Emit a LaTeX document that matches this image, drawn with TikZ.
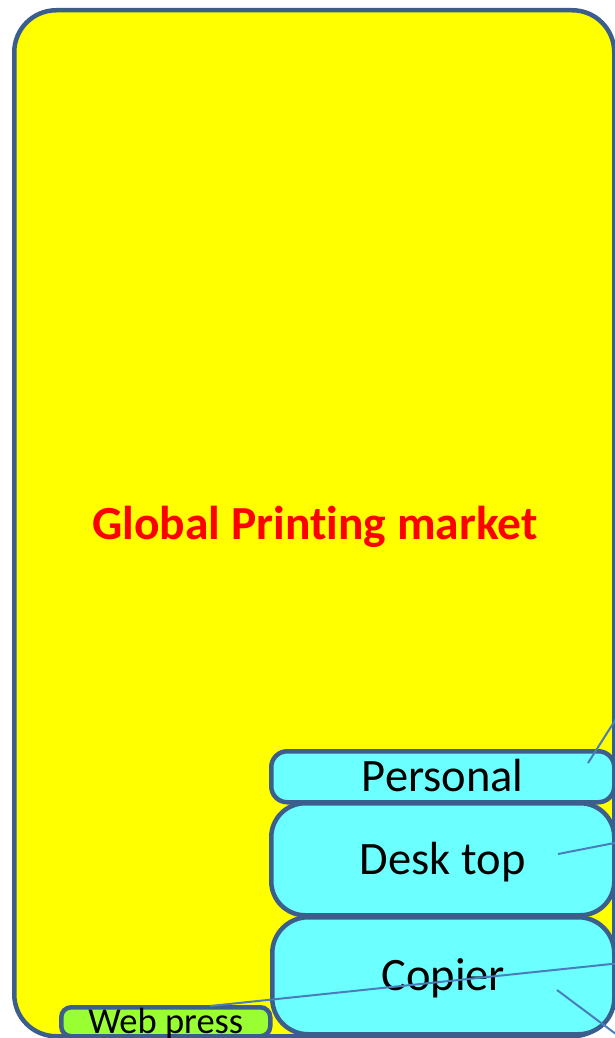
\documentclass[tikz,border=0pt]{standalone}
\usepackage{fontspec}
\setmainfont{Carlito}[Ligatures=NoCommon]
\definecolor{edgeblue}{HTML}{3B5E8C}
\definecolor{linkblue}{HTML}{4A7EBB}
\definecolor{boxcyan}{HTML}{6CFFFF}
\definecolor{boxgreen}{HTML}{99FF33}
\definecolor{mktyellow}{HTML}{FFFF00}
\tikzset{
  panel/.style={draw=edgeblue, line width=4.5pt, anchor=north west, inner sep=0pt},
  segbox/.style={panel, fill=boxcyan, font=\fontsize{46.5}{50}\selectfont, text height=29.9pt, text depth=0pt},
  webbox/.style={panel, fill=boxgreen, rounded corners=10pt, font=\fontsize{36.5}{40}\selectfont, text height=23.5pt, text depth=0pt},
  link/.style={draw=linkblue, line width=2pt},
}
\begin{document}
\begin{tikzpicture}[x=1pt,y=-1pt]
\useasboundingbox (0,0) rectangle (615,1038);
\clip (0,0) rectangle (615,1038);
\node[panel, fill=mktyellow, rounded corners=42pt, minimum width=600pt, minimum height=1026pt] (market) at (12,8) {};
\node[text=red, font=\bfseries\fontsize{47.5}{52}\selectfont, text height=30.6pt, text depth=0pt, inner sep=0pt] (title) at (315,524) {Global Printing market};
\node[segbox, rounded corners=16pt, minimum width=343pt, minimum height=51pt] (personal) at (269,749) {Personal};
\node[segbox, rounded corners=34pt, minimum width=343pt, minimum height=112pt] (desktop) at (269,801) {Desk top};
\node[segbox, rounded corners=36pt, minimum width=342pt, minimum height=117pt] (copier) at (270,915) {Copier};
\node[webbox, minimum width=209pt, minimum height=29pt] (web) at (59,1005) {Web press};
\coordinate (personalIn) at (588,763);
\coordinate (personalOut) at (628,700);
\coordinate (desktopIn) at (558,854);
\coordinate (desktopOut) at (640,838);
\coordinate (webIn) at (210,1006);
\coordinate (webOut) at (640,961);
\coordinate (copierIn) at (557,990);
\coordinate (copierOut) at (640,1052);
\draw[link] (personalIn) -- (personalOut);
\draw[link] (desktopIn) -- (desktopOut);
\draw[link] (webIn) -- (webOut);
\draw[link] (copierIn) -- (copierOut);
\end{tikzpicture}
\end{document}
